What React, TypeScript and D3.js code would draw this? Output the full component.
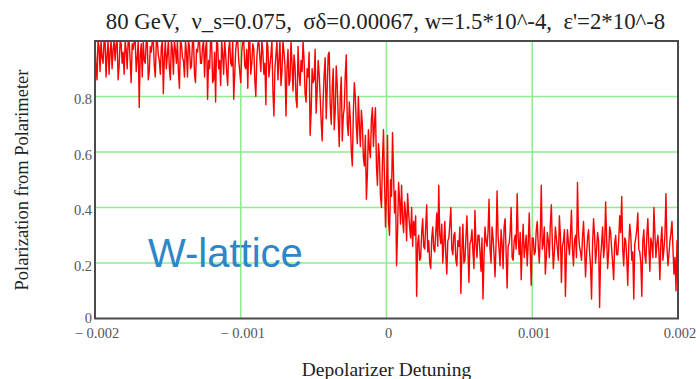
import React, { useRef, useEffect } from 'react';
import * as d3 from 'd3';

// detuning runs evenly across the window, one sample per entry below
const detuningRange = [-0.002, 0.002];
const xTicks = [-0.002, -0.001, 0, 0.001, 0.002];
const xTickLabels = ['\u2212 0.002', '\u2212 0.001', '0', '0.001', '0.002'];
const yTicks = [0, 0.2, 0.4, 0.6, 0.8];
const yTickLabels = ['0', '0.2', '0.4', '0.6', '0.8'];
const xGrid = [-0.001, 0, 0.001];
const yGrid = [0.2, 0.4, 0.6, 0.8];

const title = "80 GeV,  \u03bd_s=0.075,  \u03c3\u03b4=0.00067, w=1.5*10^-4,  \u03b5'=2*10^-8";

// far below resonance, polarization stays near 1 (clipped at top of plot)
const polarizationPlateau = [
  1.0, .91, .86, 1.0, .98, .89, 1.0, .94, .92, 1.0, 1.0, .87, .95, 1.0, .88, .96, 1.0, .90, .97, 1.0,
  .93, .99, 1.0, .86, .91, 1.0, .99, .92, .96, .88, 1.0, .97, .90, 1.0, 1.0, .93, .85, .99, .97, 1.0,
  1.0, .89, .94, 1.0, .76, .95, .99, .87, 1.0, .93, .92, 1.0, 1.0, .86, .89, .98, .96, 1.0, 1.0, .91,
  .87, 1.0, 1.0, .95, .93, .88, .98, 1.0, .81, .94, 1.0, .90, .95, 1.0, .90, .86, 1.0, .97, .88, 1.0,
  .97, .92, 1.0, .89, .83, 1.0, .99, .94, .93, .87, 1.0, .96, .87, 1.0, .98, .90, .91, 1.0, 1.0, .88,
  .85, .97, .96, 1.0, 1.0, .92,
  .92, .98, 1.0, .87, .97, 1.0, .79, .93, .90, 1.0, 1.0, .85, .86, .96, .78, 1.0, .99, .90, .93, .84,
  1.0, .95, .88, 1.0, .95, .89, .84, .97, 1.0, .92, .91, 1.0, .79, .88, .97, 1.0, 1.0, .93, .89, .85,
  .96, 1.0, 1.0, .91, .90, .97, .83, 1.0, 1.0, .88, .92, .99, .97, .86, .80, .94, .99, 1.0, .94, .89,
  1.0, .96, .88, .92, .77, 1.0, .98, .87, .91, .95, 1.0, .82, .73, .90, .95, 1.0, .86, .93, 1.0, .84,
  .89, 1.0, .96, .91,
];

// the depolarizing edge
const polarizationFall = [
  .73, .90, .97, .84, .86, 1.0, .92, .82, .95, .91, .79, .76, .98, .88, .84, .93, .89, 1.0, .93, .81,
  .78, .90, .87, .96, .66, .74, .90, .85,
  .86, .97, .74, .82, .93, .88, .80, .71, .64, .79, .88, .94, .72, .83, .95, .96, .77, .70, .83, .90,
  .68, .75, .91, .84, .72, .62, .80, .87, .64, .73,
  .76, .88, .95, .70, .66, .78, .72, .60, .55, .74, .85, .80, .69, .63,
  .80, .70, .62, .75, .70, .58, .55, .66, .43, .52, .68, .61, .58, .72, .76,
  .62, .70, .76, .55, .48, .63, .58, .44, .40, .57, .68, .50, .33, .45,
  .66, .35, .30, .50, .44, .67, .52, .38, .46, .19, .31, .49, .43, .34,
  .48, .36, .31, .42, .38, .28, .45, .38, .33, .29, .40, .26, .35, .30, .37,
];

// above resonance, residual polarization
const polarizationTail = [
  .08, .27, .30, .21, .22, .31, .36, .26, .25, .33, .41, .24, .28, .20, .18, .29, .33, .25, .24, .31,
  .38, .26, .48, .30, .27, .34, .20, .27, .35, .23, .16, .28, .29, .34, .40, .25, .23, .30, .31, .21,
  .19, .28, .26, .33, .09, .24, .34, .20, .21, .29, .37, .25, .13, .27, .28, .32, .24, .18, .39, .27,
  .22, .30, .30, .24, .17, .29, .07, .22, .33, .28, .26, .31, .43, .25, .20, .33, .29, .23, .15, .27,
  .46, .30, .25, .19, .32, .27, .18, .33, .36, .24, .11, .26, .27, .31, .40, .22, .21, .28, .30, .25,
  .45, .29, .23, .31, .14, .26, .34, .22, .26, .30, .19, .27, .38, .24, .12, .29, .29, .23, .24, .32,
  .35, .26, .20, .30, .48, .25, .27, .33, .16, .22, .31, .28, .22, .34, .41, .27, .18, .24, .33, .29,
  .25, .21, .37, .30, .13, .26, .28, .32, .08, .23, .32, .27, .23, .30, .39, .25, .19, .28, .30, .22,
  .49, .31, .26, .24, .21, .29, .35, .26, .15, .23, .29, .32, .24, .19, .07, .27, .36, .30, .20, .25,
  .31, .28, .04, .22, .27, .33, .22, .26, .42, .29, .18, .24, .33, .31, .25, .20, .14, .27, .30, .23,
  .23, .28, .37, .31, .44, .25, .19, .29, .28, .22, .12, .26, .34, .30, .21, .24, .07, .27, .29, .32,
  .38, .25, .24, .20, .08, .28, .32, .23, .20, .30, .36, .26, .17, .29, .27, .22, .40, .31, .22, .27,
  .30, .24, .14, .28, .33, .21, .25, .30, .45, .26, .19, .23, .28, .31, .35, .25, .16, .22, .10, .28,
  .27,
];

const App = () => {
  const svgRef = useRef(null);
  const serif = "'Liberation Serif', 'Times New Roman', serif";

  useEffect(() => {
    const svg = d3.select(svgRef.current);
    svg.selectAll('*').remove();

    const margin = { top: 41, right: 18, bottom: 60.5, left: 95 };
    const width = 696;
    const height = 379;
    const plotRight = width - margin.right;
    const plotBottom = height - margin.bottom;

    const data = polarizationPlateau.concat(polarizationFall, polarizationTail);
    const idx = d3.scaleLinear().domain([0, data.length - 1]).range(detuningRange);

    const x = d3.scaleLinear().domain(detuningRange).range([margin.left, plotRight]);
    const y = d3.scaleLinear().domain([0, 1]).range([plotBottom, margin.top]);

    svg.append('defs').append('clipPath').attr('id', 'plotClip')
      .append('rect')
      .attr('x', margin.left).attr('y', margin.top)
      .attr('width', plotRight - margin.left).attr('height', plotBottom - margin.top);

    // grid
    svg.append('g').selectAll('line').data(yGrid).join('line')
      .attr('x1', margin.left).attr('x2', plotRight)
      .attr('y1', d => y(d)).attr('y2', d => y(d))
      .attr('stroke', '#8cee8c').attr('stroke-width', 1.6);
    svg.append('g').selectAll('line').data(xGrid).join('line')
      .attr('x1', d => x(d)).attr('x2', d => x(d))
      .attr('y1', margin.top).attr('y2', plotBottom)
      .attr('stroke', '#8cee8c').attr('stroke-width', 1.6);

    const line = d3.line()
      .x((d, i) => x(idx(i)))
      .y(d => y(d));

    svg.append('path')
      .datum(data)
      .attr('clip-path', 'url(#plotClip)')
      .attr('fill', 'none')
      .attr('stroke', '#ff0000')
      .attr('stroke-width', 1.4)
      .attr('stroke-linejoin', 'round')
      .attr('d', line);

    // frame
    svg.append('rect')
      .attr('x', margin.left).attr('y', margin.top)
      .attr('width', plotRight - margin.left).attr('height', plotBottom - margin.top)
      .attr('fill', 'none').attr('stroke', '#4a4a4a').attr('stroke-width', 2);

    // tick labels
    svg.append('g').selectAll('text').data(yTicks).join('text')
      .attr('x', 92)
      .attr('y', d => y(d) + (d === 0 ? 4.5 : 7.5))
      .attr('text-anchor', 'end')
      .style('font-family', serif).style('font-size', 14.5).style('fill', '#555')
      .text((d, i) => yTickLabels[i]);

    svg.append('g').selectAll('text').data(xTicks).join('text')
      .attr('x', d => x(d) + 2)
      .attr('y', 337.5)
      .attr('text-anchor', 'middle')
      .style('font-family', serif).style('font-size', 14.5).style('fill', '#555')
      .text((d, i) => xTickLabels[i]);

    svg.append('text')
      .attr('x', (margin.left + plotRight) / 2 - 1).attr('y', 29)
      .attr('text-anchor', 'middle')
      .style('font-family', serif).style('font-size', 22.8).style('fill', '#222')
      .style('white-space', 'pre')
      .text(title);

    svg.append('text')
      .attr('x', 386.5).attr('y', 376)
      .attr('text-anchor', 'middle')
      .style('font-family', serif).style('font-size', 19.5).style('fill', '#222')
      .text('Depolarizer Detuning');

    svg.append('text')
      .attr('transform', 'translate(28,180) rotate(-90)')
      .attr('text-anchor', 'middle')
      .style('font-family', serif).style('font-size', 18.5).style('fill', '#222')
      .text('Polarization from Polarimeter');

    svg.append('text')
      .attr('x', 148).attr('y', 267)
      .style('font-family', "'Liberation Sans', Arial, sans-serif")
      .style('font-size', 40).style('fill', '#2e86c8')
      .text('W-lattice');
  }, []);

  return (
    <svg ref={svgRef} width={696} height={379}
      style={{ position: 'absolute', left: 0, top: 0, background: '#fff' }} />
  );
};

export default App;
